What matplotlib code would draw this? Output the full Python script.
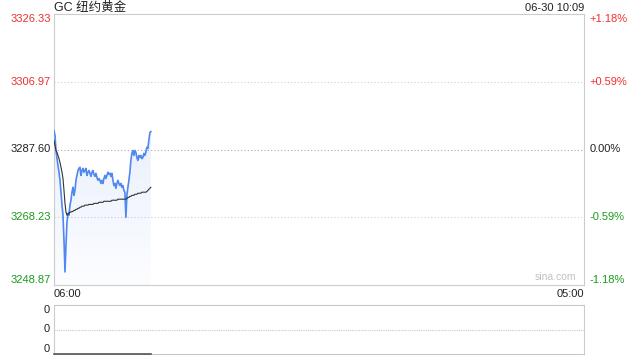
import numpy as np
import matplotlib
matplotlib.use("Agg")
import matplotlib.pyplot as plt

# GC 纽约黄金 intraday, sampled every 2.6 minutes from 06:00
prices = [3293.0, 3291.6, 3287.3, 3285.0, 3283.0, 3281.1, 3278.8, 3275.4, 3271.7, 3268.8,
          3261.7, 3252.6, 3260.3, 3266.8, 3269.4, 3268.8, 3271.7, 3273.1, 3275.4, 3276.8,
          3274.5, 3275.9, 3278.8, 3280.2, 3281.6, 3282.2, 3282.5, 3280.2, 3281.6, 3282.2,
          3281.1, 3281.6, 3282.2, 3280.2, 3281.1, 3281.6, 3280.8, 3279.9, 3281.1, 3281.6,
          3280.5, 3279.9, 3280.8, 3279.6, 3278.8, 3279.3, 3278.8, 3277.9, 3278.8, 3277.9,
          3279.3, 3280.2, 3279.3, 3280.2, 3281.1, 3280.5, 3280.8, 3279.9, 3280.8, 3278.8,
          3277.3, 3277.9, 3276.5, 3277.9, 3278.8, 3277.9, 3277.3, 3277.9, 3276.8, 3277.3,
          3275.9, 3275.4, 3268.2, 3274.5, 3276.8, 3278.8, 3281.1, 3284.5, 3286.5, 3287.3,
          3285.9, 3287.3, 3286.8, 3285.3, 3284.5, 3285.9, 3285.3, 3285.9, 3285.0, 3285.3,
          3286.5, 3285.9, 3286.8, 3288.2, 3287.9, 3290.2, 3292.4, 3292.7]
avg_prices = [3290.2, 3288.7, 3287.3, 3286.8, 3285.9, 3285.0, 3283.9, 3282.5, 3281.1, 3279.3,
              3275.9, 3272.2, 3269.7, 3268.8, 3269.1, 3269.4, 3269.7, 3269.7, 3269.9, 3269.9,
              3270.2, 3270.2, 3270.5, 3270.5, 3270.8, 3270.8, 3271.1, 3271.1, 3271.4, 3271.4,
              3271.4, 3271.7, 3271.7, 3271.7, 3271.7, 3271.9, 3271.9, 3271.9, 3271.9, 3271.9,
              3272.2, 3272.2, 3272.2, 3272.2, 3272.2, 3272.5, 3272.5, 3272.5, 3272.5, 3272.5,
              3272.8, 3272.8, 3272.8, 3272.8, 3272.8, 3272.8, 3272.8, 3272.8,
              3273.1, 3273.1, 3273.1, 3273.1, 3273.1, 3273.1,
              3273.4, 3273.4, 3273.4, 3273.4, 3273.4, 3273.4, 3273.4, 3273.4, 3273.4,
              3273.6, 3273.9, 3273.9, 3274.2, 3274.2, 3274.5, 3274.5, 3274.5, 3274.8, 3274.8,
              3274.8, 3275.1, 3275.1, 3275.1, 3275.1,
              3275.4, 3275.4, 3275.4, 3275.4, 3275.4,
              3275.6, 3275.9, 3276.2, 3276.5, 3276.8]
volumes = [0] * len(prices)

price_ticks = [3326.33, 3306.97, 3287.60, 3268.23, 3248.87]
pct_ticks = ["+1.18%", "+0.59%", "0.00%", "-0.59%", "-1.18%"]
tick_colors = ["#f03030", "#f03030", "#222222", "#1a9a1a", "#1a9a1a"]
x_labels = ["06:00", "05:00"]
title = "GC 纽约黄金"
stamp = "06-30 10:09"
session_minutes = 1380
step = 2.6

fonts = ["Liberation Sans", "Noto Sans CJK SC", "DejaVu Sans"]
plt.rcParams["font.family"] = fonts

times = np.arange(len(prices)) * step

fig = plt.figure(figsize=(6.4, 3.6), dpi=100)
ax = fig.add_axes([54 / 640, 1 - 285 / 360, 530 / 640, 271 / 360])
axv = fig.add_axes([54 / 640, 1 - 354 / 360, 530 / 640, 49 / 360])

lo, hi = price_ticks[-1], price_ticks[0]
ax.set_xlim(0, session_minutes)
ax.set_ylim(lo, hi)

# gradient fill under the price line
grad = np.zeros((100, 1, 4))
grad[:, 0, 0] = 90 / 255
grad[:, 0, 1] = 145 / 255
grad[:, 0, 2] = 240 / 255
grad[:, 0, 3] = np.linspace(0.22, 0.02, 100)
im = ax.imshow(grad, extent=[0, session_minutes, lo, hi], aspect="auto",
               origin="upper", zorder=1)
poly = ax.fill_between(times, prices, lo, color="none", lw=0)
im.set_clip_path(poly.get_paths()[0], transform=ax.transData)

ax.plot(times, prices, color="#4f88f0", lw=1.2, zorder=3)
ax.plot(times, avg_prices, color="#333333", lw=0.8, zorder=4)

for v in price_ticks[1:-1]:
    c = "#aaaaaa" if v == price_ticks[2] else "#d0d0d0"
    ax.axhline(v, color=c, lw=0.8, ls=(0, (1, 2)), zorder=0)

ax.set_xticks([])
ax.set_yticks([])
for s in ax.spines.values():
    s.set_color("#cccccc")
    s.set_linewidth(0.8)

yt = ax.get_yaxis_transform()
for i, (v, p, c) in enumerate(zip(price_ticks, pct_ticks, tick_colors)):
    va = "top" if i == 0 else ("bottom" if i == len(price_ticks) - 1 else "center")
    ax.text(-0.006, v, f"{v:.2f}", transform=yt, ha="right", va=va, color=c, fontsize=8)
    ax.text(1.011, v, p, transform=yt, ha="left", va=va, color=c, fontsize=8)

ax.text(0.0, 1.002, title, transform=ax.transAxes, ha="left", va="bottom",
        fontsize=9, color="#222222")
ax.text(1.0, 1.002, stamp, transform=ax.transAxes, ha="right", va="bottom",
        fontsize=8, color="#222222")
ax.text(0.985, 0.012, "sina.com", transform=ax.transAxes, ha="right", va="bottom",
        fontsize=7.5, color="#c0c0c0")
ax.text(0.0, -0.015, x_labels[0], transform=ax.transAxes, ha="left", va="top",
        fontsize=8, color="#222222")
ax.text(1.0, -0.015, x_labels[1], transform=ax.transAxes, ha="right", va="top",
        fontsize=8, color="#222222")

# volume panel
axv.set_xlim(0, session_minutes)
axv.set_ylim(0, 1)
axv.plot(times, volumes, color="#555555", lw=1.2, zorder=3, clip_on=False)
axv.axhline(0.5, color="#c8c8c8", lw=0.8, ls=(0, (1, 1)))
axv.set_xticks([])
axv.set_yticks([])
for k in ["top", "bottom"]:
    axv.spines[k].set_color("#c8c8c8")
    axv.spines[k].set_linestyle((0, (1, 1)))
for k in ["left", "right"]:
    axv.spines[k].set_color("#cccccc")
for s in axv.spines.values():
    s.set_linewidth(0.8)
for y, va in [(1, "top"), (0.5, "center"), (0, "bottom")]:
    axv.text(-0.008, y, "0", transform=axv.get_yaxis_transform(), ha="right",
             va=va, fontsize=8, color="#222222")

fig.savefig("out.png", dpi=100)
